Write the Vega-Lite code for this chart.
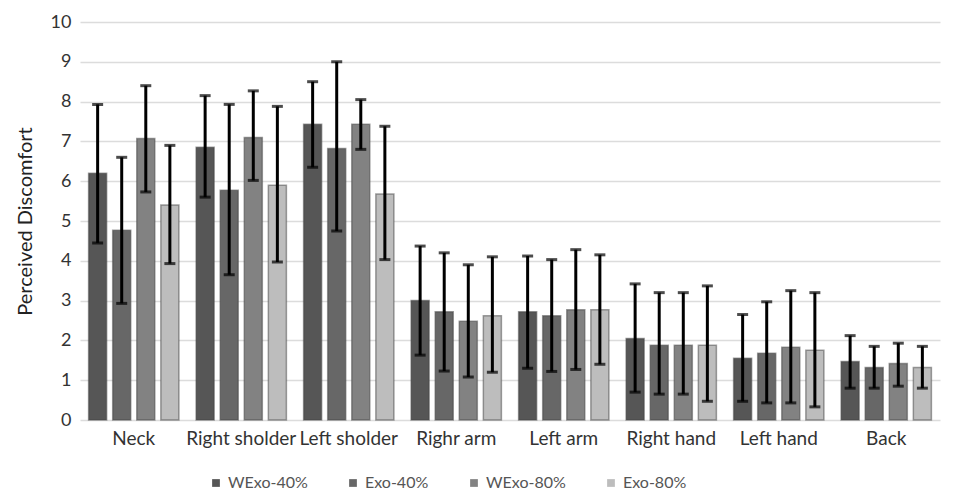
{
  "$schema": "https://vega.github.io/schema/vega-lite/v6.json",
  "autosize": {"type": "none"},
  "padding": {"left": 80, "top": 22, "right": 18, "bottom": 75},
  "width": 860,
  "height": 398,
  "background": "white",
  "config": {
    "font": "Lato",
    "view": {"stroke": null},
    "axis": {"labelFont": "Lato", "titleFont": "Lato"},
    "legend": {"labelFont": "Lato"}
  },
  "data": {
    "values": [
      {"part": "Neck", "cond": "WExo-40%", "mean": 6.2, "lo": 4.45, "hi": 7.93},
      {"part": "Neck", "cond": "Exo-40%", "mean": 4.77, "lo": 2.93, "hi": 6.6},
      {"part": "Neck", "cond": "WExo-80%", "mean": 7.07, "lo": 5.73, "hi": 8.4},
      {"part": "Neck", "cond": "Exo-80%", "mean": 5.4, "lo": 3.93, "hi": 6.9},
      {"part": "Right sholder", "cond": "WExo-40%", "mean": 6.85, "lo": 5.6, "hi": 8.15},
      {"part": "Right sholder", "cond": "Exo-40%", "mean": 5.77, "lo": 3.65, "hi": 7.93},
      {"part": "Right sholder", "cond": "WExo-80%", "mean": 7.1, "lo": 6.02, "hi": 8.27},
      {"part": "Right sholder", "cond": "Exo-80%", "mean": 5.9, "lo": 3.97, "hi": 7.88},
      {"part": "Left sholder", "cond": "WExo-40%", "mean": 7.43, "lo": 6.35, "hi": 8.5},
      {"part": "Left sholder", "cond": "Exo-40%", "mean": 6.82, "lo": 4.75, "hi": 9.0},
      {"part": "Left sholder", "cond": "WExo-80%", "mean": 7.43, "lo": 6.8, "hi": 8.05},
      {"part": "Left sholder", "cond": "Exo-80%", "mean": 5.68, "lo": 4.03, "hi": 7.38},
      {"part": "Righr arm", "cond": "WExo-40%", "mean": 3.0, "lo": 1.63, "hi": 4.37},
      {"part": "Righr arm", "cond": "Exo-40%", "mean": 2.72, "lo": 1.23, "hi": 4.2},
      {"part": "Righr arm", "cond": "WExo-80%", "mean": 2.48, "lo": 1.08, "hi": 3.9},
      {"part": "Righr arm", "cond": "Exo-80%", "mean": 2.62, "lo": 1.2, "hi": 4.1},
      {"part": "Left arm", "cond": "WExo-40%", "mean": 2.72, "lo": 1.3, "hi": 4.12},
      {"part": "Left arm", "cond": "Exo-40%", "mean": 2.62, "lo": 1.22, "hi": 4.03},
      {"part": "Left arm", "cond": "WExo-80%", "mean": 2.77, "lo": 1.27, "hi": 4.28},
      {"part": "Left arm", "cond": "Exo-80%", "mean": 2.77, "lo": 1.4, "hi": 4.15},
      {"part": "Right hand", "cond": "WExo-40%", "mean": 2.05, "lo": 0.7, "hi": 3.42},
      {"part": "Right hand", "cond": "Exo-40%", "mean": 1.88, "lo": 0.65, "hi": 3.2},
      {"part": "Right hand", "cond": "WExo-80%", "mean": 1.88, "lo": 0.65, "hi": 3.2},
      {"part": "Right hand", "cond": "Exo-80%", "mean": 1.88, "lo": 0.47, "hi": 3.37},
      {"part": "Left hand", "cond": "WExo-40%", "mean": 1.55, "lo": 0.47, "hi": 2.65},
      {"part": "Left hand", "cond": "Exo-40%", "mean": 1.68, "lo": 0.43, "hi": 2.97},
      {"part": "Left hand", "cond": "WExo-80%", "mean": 1.83, "lo": 0.43, "hi": 3.25},
      {"part": "Left hand", "cond": "Exo-80%", "mean": 1.75, "lo": 0.33, "hi": 3.2},
      {"part": "Back", "cond": "WExo-40%", "mean": 1.47, "lo": 0.8, "hi": 2.12},
      {"part": "Back", "cond": "Exo-40%", "mean": 1.32, "lo": 0.8, "hi": 1.85},
      {"part": "Back", "cond": "WExo-80%", "mean": 1.42, "lo": 0.85, "hi": 1.93},
      {"part": "Back", "cond": "Exo-80%", "mean": 1.32, "lo": 0.8, "hi": 1.85}
    ]
  },
  "encoding": {
    "x": {
      "field": "part",
      "type": "nominal",
      "sort": null,
      "scale": {"paddingInner": 0.16, "paddingOuter": 0.08},
      "axis": {
        "title": null,
        "labelAngle": 0,
        "labelFontSize": 19,
        "labelColor": "#333",
        "labelPadding": 9,
        "labelLimit": 300,
        "ticks": false,
        "domain": false
      }
    },
    "xOffset": {
      "field": "cond",
      "type": "nominal",
      "sort": ["WExo-40%", "Exo-40%", "WExo-80%", "Exo-80%"],
      "scale": {"paddingInner": 0.25}
    }
  },
  "layer": [
    {
      "mark": {"type": "bar", "strokeWidth": 1.5, "stroke": "#444", "strokeOpacity": 0.5},
      "encoding": {
        "y": {
          "field": "mean",
          "type": "quantitative",
          "scale": {"domain": [0, 10]},
          "axis": {
            "title": "Perceived Discomfort",
            "titleFontSize": 20,
            "titleFontWeight": "normal",
            "titleColor": "#222",
            "titlePadding": 15,
            "labelFontSize": 18,
            "labelColor": "#333",
            "labelPadding": 9,
            "tickCount": 10,
            "ticks": false,
            "domain": false,
            "gridColor": "#dcdcdc",
            "gridWidth": 1.5
          }
        },
        "color": {
          "field": "cond",
          "type": "nominal",
          "sort": ["WExo-40%", "Exo-40%", "WExo-80%", "Exo-80%"],
          "scale": {
            "domain": ["WExo-40%", "Exo-40%", "WExo-80%", "Exo-80%"],
            "range": ["#565656", "#676767", "#828282", "#bdbdbd"]
          },
          "legend": {
            "title": null,
            "orient": "none",
            "legendX": 128,
            "legendY": 453,
            "direction": "horizontal",
            "symbolType": "square",
            "symbolSize": 60,
            "symbolStrokeWidth": 0,
            "labelFontSize": 16,
            "labelColor": "#555",
            "columnPadding": 37
          }
        }
      }
    },
    {
      "mark": {"type": "rule", "color": "black", "strokeWidth": 3},
      "encoding": {
        "y": {"field": "lo", "type": "quantitative"},
        "y2": {"field": "hi"}
      }
    },
    {
      "mark": {"type": "tick", "color": "black", "thickness": 3, "size": 11},
      "encoding": {"y": {"field": "lo", "type": "quantitative"}}
    },
    {
      "mark": {"type": "tick", "color": "black", "thickness": 3, "size": 11},
      "encoding": {"y": {"field": "hi", "type": "quantitative"}}
    }
  ]
}
